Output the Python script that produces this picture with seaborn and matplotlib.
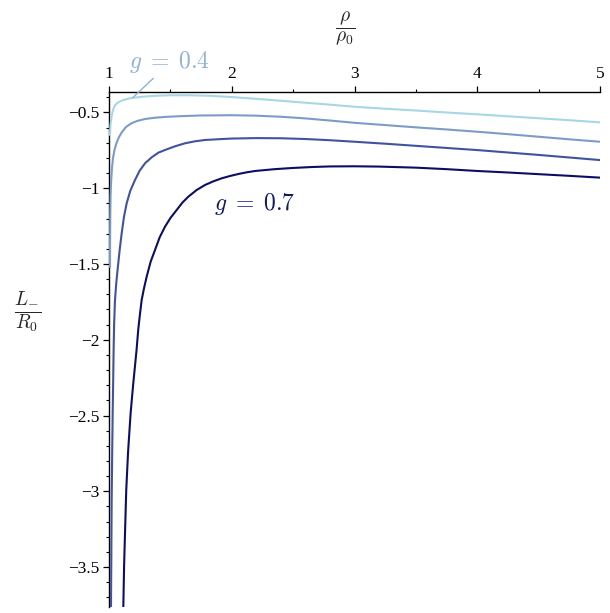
import matplotlib
matplotlib.use("Agg")
import matplotlib.pyplot as plt
from matplotlib.ticker import FixedLocator, MultipleLocator
import numpy as np
import pandas as pd
import seaborn as sns

# ---- data ----
rho_g04 = [1.0081, 1.0098, 1.0122, 1.0163, 1.0220, 1.0285, 1.0367, 1.0489, 1.0652, 1.0896, 1.1222,
           1.1629, 1.2118, 1.2770, 1.3747, 1.4969, 1.6599, 1.8228, 2.0, 2.25, 2.5, 2.75, 3.0, 3.25,
           3.5, 3.75, 4.0, 4.25, 4.5, 4.75, 5.0]
L_g04 = [-0.6485, -0.6155, -0.5825, -0.5528, -0.5231, -0.4967, -0.4736, -0.4538, -0.4393, -0.4261,
         -0.4162, -0.4076, -0.4017, -0.3957, -0.3898, -0.3865, -0.3865, -0.3898, -0.398, -0.413, -0.429,
         -0.445, -0.462, -0.475, -0.487, -0.500, -0.512, -0.525, -0.538, -0.551, -0.565]

rho_g05 = [1.0081, 1.0090, 1.0106, 1.0130, 1.0179, 1.0244, 1.0326, 1.0448, 1.0611, 1.0815, 1.1059,
           1.1385, 1.1792, 1.2281, 1.2933, 1.3747, 1.4725, 1.5784, 1.7413, 2.0, 2.2, 2.4, 2.6, 2.8,
           3.0, 3.25, 3.5, 3.75, 4.0, 4.25, 4.5, 4.75, 5.0]
L_g05 = [-1.5198, -1.3416, -1.1766, -1.0446, -0.9455, -0.8663, -0.8003, -0.7475, -0.7013, -0.6617,
         -0.6287, -0.5957, -0.5726, -0.5561, -0.5429, -0.5343, -0.5284, -0.5244, -0.5198, -0.518,
         -0.521, -0.528, -0.539, -0.553, -0.568, -0.583, -0.598, -0.612, -0.627, -0.643, -0.660,
         -0.677, -0.693]

rho_g06 = [1.0163, 1.0190, 1.0218, 1.0253, 1.0299, 1.0342, 1.0375, 1.0420, 1.0489, 1.0590, 1.0725,
           1.0869, 1.1032, 1.1222, 1.1439, 1.1738, 1.2118, 1.2498, 1.2933, 1.3476, 1.4019, 1.4562,
           1.5377, 1.6191, 1.7006, 1.7821, 1.9, 2.0, 2.2, 2.4, 2.6, 2.8, 3.0, 3.25, 3.5, 3.75, 4.0,
           4.25, 4.5, 4.75, 5.0]
L_g06 = [-3.764, -3.421, -3.0578, -2.794, -2.4856, -2.2657, -2.068, -1.8916, -1.7376, -1.6276,
         -1.5178, -1.4076, -1.2976, -1.1876, -1.0995, -1.0160, -0.9455, -0.8840, -0.8355, -0.7959,
         -0.7653, -0.7475, -0.7231, -0.7033, -0.6901, -0.6815, -0.676, -0.672, -0.669, -0.670, -0.675,
         -0.683, -0.693, -0.706, -0.720, -0.734, -0.748, -0.764, -0.780, -0.797, -0.814]

rho_g07 = [1.1167, 1.1228, 1.1315, 1.1405, 1.1555, 1.1760, 1.1965, 1.2245, 1.2380, 1.2498,
           1.2661, 1.2851, 1.3069, 1.3394, 1.3747, 1.4128, 1.4562, 1.5024, 1.5513, 1.5974, 1.6463,
           1.7142, 1.7821, 1.8500, 1.9179, 1.9857, 2.0536, 2.1215, 2.1894, 2.35, 2.5, 2.65, 2.8, 3.0,
           3.2, 3.5, 3.75, 4.0, 4.25, 4.5, 4.75, 5.0]
L_g07 = [-3.764, -3.4978, -3.2446, -2.9917, -2.7387, -2.4857, -2.2987, -2.0677, -1.9356,
         -1.8476, -1.7376, -1.6606, -1.5836, -1.4846, -1.4076, -1.3240, -1.2536, -1.1942, -1.1436,
         -1.0952, -1.0556, -1.0116, -0.9785, -0.9543, -0.9345, -0.9191, -0.9059, -0.8949, -0.8861,
         -0.874, -0.866, -0.860, -0.856, -0.855, -0.857, -0.864, -0.874, -0.886, -0.896, -0.907,
         -0.918, -0.930]

g_values = ["0.4", "0.5", "0.6", "0.7"]
x_ticks = [1, 2, 3, 4, 5]
y_ticks = [-0.5, -1, -1.5, -2, -2.5, -3, -3.5]
y_tick_labels = ["\u22120.5", "\u22121", "\u22121.5", "\u22122", "\u22122.5", "\u22123", "\u22123.5"]

colors = ["#a9d6e5", "#7c9cc8", "#41539f", "#0c0e66"]

frames = []
for g, xs, ys in zip(g_values, [rho_g04, rho_g05, rho_g06, rho_g07], [L_g04, L_g05, L_g06, L_g07]):
    frames.append(pd.DataFrame({"rho": xs, "L": ys, "g": g}))
df = pd.concat(frames, ignore_index=True)

sns.set_style("white")
plt.rcParams["font.family"] = ["Liberation Serif", "DejaVu Serif"]
plt.rcParams["mathtext.fontset"] = "cm"

fig = plt.figure(figsize=(6.10, 6.13), dpi=100)
ax = fig.add_axes([109 / 610, 1 - 607 / 613, (600 - 109) / 610, (607 - 92) / 613])

for g, c in zip(g_values, colors):
    sub = df[df["g"] == g]
    sns.lineplot(data=sub, x="rho", y="L", ax=ax, color=c, linewidth=1.5, sort=False,
                 legend=False, zorder=3)

ax.set_xlim(1, 5)
ax.set_ylim(-3.764, -0.3647)
ax.set_xlabel("")
ax.set_ylabel("")

ax.xaxis.tick_top()
ax.xaxis.set_major_locator(FixedLocator(x_ticks))
ax.xaxis.set_minor_locator(MultipleLocator(0.5))
ax.set_xticklabels([str(v) for v in x_ticks])
ax.yaxis.set_major_locator(FixedLocator(y_ticks))
ax.yaxis.set_minor_locator(MultipleLocator(0.1))
ax.set_yticklabels(y_tick_labels)

for side in ["bottom", "right"]:
    ax.spines[side].set_visible(False)
for side in ["top", "left"]:
    ax.spines[side].set_visible(True)
    ax.spines[side].set_color("black")
    ax.spines[side].set_linewidth(1.0)

ax.tick_params(which="major", direction="out", length=4, width=0.9, colors="black",
               labelsize=12.5, pad=3)
ax.tick_params(which="minor", direction="out", length=2.5, width=0.8, colors="black")
ax.tick_params(axis="x", which="both", top=True, bottom=False)
ax.tick_params(axis="y", which="both", left=True, right=False)

ax.annotate(r"$g\;=\;0.4$", xy=(1.196, -0.400), xytext=(1.489, -0.167),
            textcoords="data", ha="center", va="center", fontsize=17, color="#8eb2d4",
            annotation_clip=False,
            arrowprops=dict(arrowstyle="-", color="#8eb2d4", lw=1.0, shrinkA=0, shrinkB=0,
                            relpos=(0.4, 0.15)))
ax.text(2.19, -1.104, r"$g\;=\;0.7$", ha="center", va="center", fontsize=17, color="#13176a")

fig.text(345 / 610, 1 - 28 / 613, r"$\dfrac{\rho}{\rho_0}$", ha="center", va="center", fontsize=14)
fig.text(28 / 610, 1 - 312 / 613, r"$\dfrac{L_{-}}{R_0}$", ha="center", va="center", fontsize=14)

fig.savefig("out.png", dpi=100)
